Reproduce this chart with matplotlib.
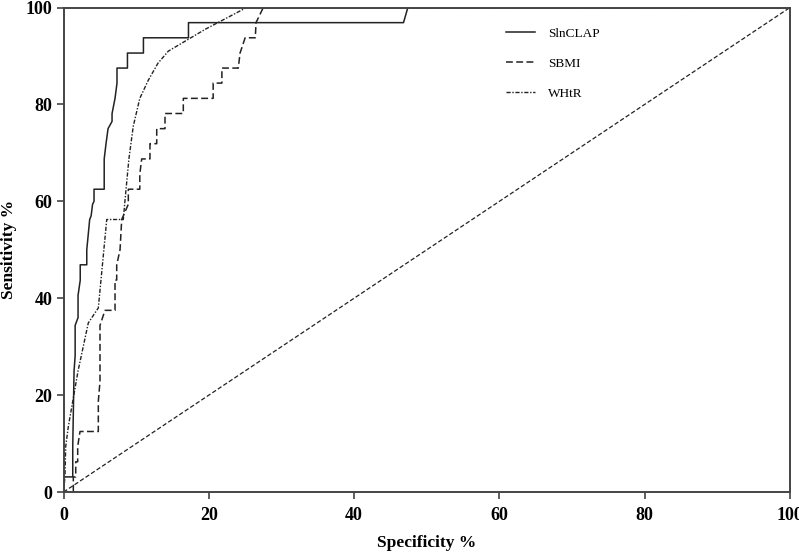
import matplotlib
matplotlib.use("Agg")
import matplotlib.pyplot as plt

# ROC data (x axis labelled "Specificity %", y = Sensitivity %)
slnclap_x = [0, 0, 1.27, 1.27, 1.45, 1.6, 1.6, 2.0, 2.0, 2.3, 2.3, 3.2, 3.2, 3.4, 3.6, 3.8, 4.0, 4.2, 4.2,
             5.6, 5.6, 5.85, 6.13, 6.13, 6.68, 6.68, 7.09, 7.36, 7.36, 8.8, 8.8, 11.0, 11.0, 17.2, 17.2,
             46.8, 47.4, 100]
slnclap_y = [0, 3.125, 3.125, 9.4, 25, 28.1, 34.4, 36, 40.6, 43.7, 46.9, 46.9, 50, 53.1, 56.25, 57, 59.4, 60, 62.5,
             62.5, 68.75, 71.9, 75, 75, 76.5, 78.1, 81.25, 84.4, 87.5, 87.5, 90.6, 90.6, 93.75, 93.75, 96.875,
             96.875, 100, 100]

sbmi_x = [0, 1.35, 1.35, 1.68, 1.68, 1.95, 1.95, 2.27, 4.79, 4.79, 5.02, 5.02, 5.71, 7.09, 7.09, 7.32, 7.32,
          7.78, 8.01, 8.92, 8.92, 10.5, 10.5, 10.76, 11.9, 11.9, 12.83, 12.83, 13.97, 13.97, 16.49, 16.49,
          20.17, 20.6, 20.6, 21.8, 21.8, 24.06, 24.3, 24.3, 25.0, 26.4, 26.5, 27.5, 100]
sbmi_y = [0, 0, 3.125, 3.125, 6.25, 6.25, 9.4, 12.5, 12.5, 18.75, 22.8, 34.4, 37.5, 37.5, 43.75, 43.75, 46.875,
          50, 56.25, 59.4, 62.5, 62.5, 65.6, 68.75, 68.75, 71.9, 71.9, 75, 75, 78.125, 78.125, 81.25,
          81.25, 81.25, 84.4, 84.4, 87.5, 87.5, 90.6, 90.6, 93.75, 93.75, 96.875, 100, 100]

whtr_x = [0, 0.2, 0.3, 0.66, 2.0, 3.41, 4.79, 5.95, 8.23, 8.47, 9.0, 9.6, 10.5, 11.67, 13.0, 14.43, 19.5, 25.2, 100]
whtr_y = [0, 3.125, 9.4, 13.5, 25, 34.9, 38.0, 56.25, 56.25, 60.3, 68.75, 75.5, 81.25, 85.0, 88.5, 91.0, 95.5, 100, 100]

ref_x = [0, 100]
ref_y = [0, 100]

labels = ["SlnCLAP", "SBMI", "WHtR"]
x_ticks = [0, 20, 40, 60, 80, 100]
y_ticks = [0, 20, 40, 60, 80, 100]

plt.rcParams['font.family'] = ['Liberation Serif', 'DejaVu Serif']

fig = plt.figure(figsize=(7.99, 5.56), dpi=100)
ax = fig.add_axes([0.0795, 0.115, 0.9092, 0.8715])

lc = '#222222'
ax.plot(slnclap_x, slnclap_y, color=lc, lw=1.1, linestyle='-', label=labels[0])
ax.plot(sbmi_x, sbmi_y, color=lc, lw=1.1, linestyle=(0, (4.5, 2.2)), label=labels[1])
ax.plot(whtr_x, whtr_y, color=lc, lw=1.0, linestyle=(0, (3, 1.2, 1, 1.2)), label=labels[2])
ax.plot(ref_x, ref_y, color=lc, lw=0.9, linestyle=(0, (3.5, 1.8)))

ax.set_xlim(0, 100)
ax.set_ylim(0, 100)
ax.set_xticks(x_ticks)
ax.set_yticks(y_ticks)
ax.set_xticklabels([str(t) for t in x_ticks], fontsize=13, fontweight='bold')
ax.set_yticklabels([str(t) for t in y_ticks], fontsize=13, fontweight='bold')
ax.tick_params(direction='out', length=5, width=1.2, color='#444444')
ax.tick_params(axis='x', pad=6)
ax.tick_params(axis='y', pad=3)
for s in ax.spines.values():
    s.set_linewidth(1.4)
    s.set_color('#444444')

ax.set_xlabel("Specificity %", fontsize=12.5, fontweight='bold', labelpad=8)
ax.set_ylabel("Sensitivity %", fontsize=12.5, fontweight='bold', labelpad=6)

leg = fig.legend(loc='upper left', bbox_to_anchor=(0.625, 0.962), frameon=False, fontsize=9.5,
                 handlelength=2.2, handletextpad=1.0, labelspacing=1.35, borderpad=0)

fig.savefig("out.png", dpi=100)
